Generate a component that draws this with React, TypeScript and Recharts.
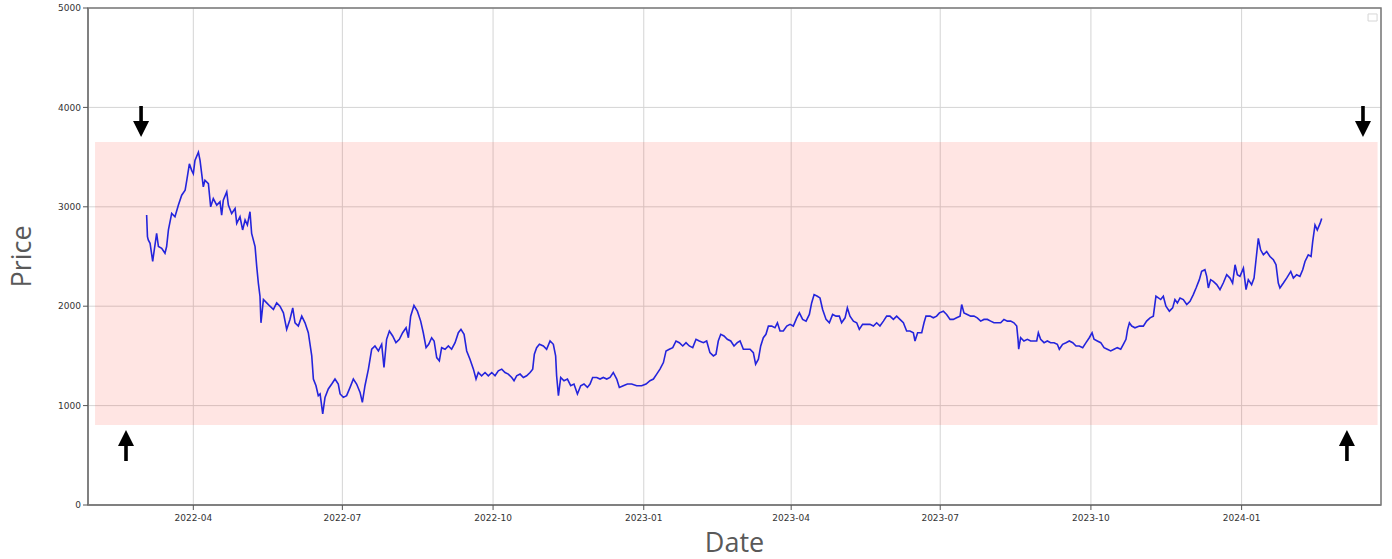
import { LineChart, Line, XAxis, YAxis, CartesianGrid, ReferenceArea, ReferenceDot } from "recharts";

// Mar 2022 - Jun 2022
const daysA = [61.5, 62.0, 62.5, 63.6, 65.2, 65.6, 67.6, 68.7, 70.7, 72.7, 73.7, 74.8, 76.8, 78.8, 80.9, 82.9, 85.0, 86.0, 87.6, 89.0, 90.0, 91.0, 93.1, 94.1, 95.1, 96.1, 97.1, 99.2, 100.6, 102.2, 104.3, 106.3, 107.3, 108.3, 110.4, 111.4, 113.4, 115.5, 116.5, 118.5, 120.1, 121.6, 123.0, 124.6, 125.6, 127.7, 128.7, 129.7, 130.7, 131.3, 132.8, 134.8, 136.8, 138.9, 140.9, 142.9, 145.0, 147.0, 149.0, 150.7, 152.1, 154.1, 156.2, 158.2, 160.2, 162.3, 163.3, 164.9, 166.3, 167.4, 169.0, 170.4, 172.4, 174.5, 176.5, 178.5];
const pricesA = [2917, 2700, 2667, 2633, 2450, 2500, 2733, 2600, 2583, 2533, 2600, 2767, 2933, 2900, 3017, 3117, 3167, 3267, 3433, 3367, 3333, 3467, 3550, 3467, 3333, 3200, 3267, 3233, 3000, 3083, 3017, 3050, 2917, 3067, 3150, 3017, 2933, 2983, 2833, 2900, 2767, 2867, 2817, 2950, 2733, 2600, 2400, 2233, 2100, 1833, 2067, 2033, 2000, 1967, 2033, 2000, 1933, 1767, 1867, 1983, 1833, 1800, 1900, 1833, 1733, 1500, 1267, 1200, 1100, 1117, 917, 1083, 1167, 1217, 1267, 1217];

// Jun 2022 - Oct 2022
const daysB = [179.6, 181.6, 183.6, 185.7, 187.7, 189.7, 191.8, 193.2, 194.8, 196.9, 198.9, 200.9, 203.0, 205.0, 206.4, 208.0, 209.7, 211.7, 213.7, 215.8, 217.8, 219.9, 221.3, 222.7, 224.7, 226.8, 228.8, 230.4, 232.1, 233.7, 235.5, 237.0, 238.6, 240.2, 241.6, 243.7, 245.7, 247.7, 249.8, 251.8, 253.4, 255.3, 256.9, 258.9, 261.0, 262.6, 264.0, 266.0, 268.1, 270.1, 272.2, 274.2, 276.2, 278.3, 280.3, 282.3, 284.4, 285.8, 287.4, 289.5, 291.5, 293.5, 295.6, 297.2, 298.2, 299.6, 301.3];
const pricesB = [1117, 1083, 1100, 1183, 1267, 1217, 1133, 1033, 1200, 1367, 1567, 1600, 1550, 1617, 1383, 1667, 1750, 1700, 1633, 1667, 1733, 1783, 1683, 1900, 2007, 1950, 1850, 1733, 1583, 1617, 1683, 1650, 1483, 1450, 1583, 1567, 1600, 1567, 1633, 1733, 1767, 1717, 1550, 1467, 1367, 1267, 1333, 1300, 1333, 1300, 1333, 1300, 1350, 1367, 1333, 1317, 1283, 1250, 1300, 1317, 1283, 1300, 1333, 1367, 1517, 1583, 1617];

// Oct 2022 - Feb 2023
const daysC = [303.7, 305.7, 307.8, 309.8, 311.2, 311.8, 312.9, 314.3, 316.3, 318.4, 320.4, 322.4, 324.5, 326.5, 328.5, 330.6, 332.2, 333.8, 336.3, 338.3, 340.3, 342.4, 344.4, 346.4, 348.5, 350.1, 352.5, 355.0, 357.6, 360.7, 363.7, 366.4, 368.8, 370.9, 372.9, 374.9, 377.0, 378.6, 380.6, 382.7, 384.7, 386.7, 388.8, 390.8, 392.8, 394.9, 396.9, 398.9, 401.4, 403.4, 405.4, 407.5, 409.1, 410.5, 412.0, 414.0, 416.0, 418.1, 420.1, 422.1];
const pricesC = [1600, 1567, 1650, 1617, 1500, 1300, 1100, 1283, 1250, 1267, 1200, 1217, 1117, 1200, 1217, 1183, 1217, 1283, 1283, 1267, 1283, 1267, 1283, 1333, 1267, 1183, 1200, 1217, 1217, 1200, 1200, 1217, 1250, 1267, 1317, 1367, 1433, 1550, 1567, 1583, 1650, 1633, 1600, 1633, 1600, 1583, 1667, 1650, 1633, 1650, 1533, 1500, 1517, 1650, 1717, 1700, 1667, 1650, 1600, 1633];

// Feb 2023 - Jun 2023
const daysD = [423.8, 425.8, 427.8, 429.9, 431.9, 433.3, 435.0, 436.4, 438.0, 439.6, 441.1, 443.1, 445.1, 446.6, 448.2, 450.2, 452.3, 454.3, 456.3, 458.4, 460.0, 462.0, 464.1, 466.1, 467.5, 469.0, 471.0, 472.6, 474.2, 476.3, 478.3, 480.3, 482.4, 484.4, 485.8, 487.9, 489.3, 490.9, 493.0, 495.0, 496.6, 498.6, 500.7, 503.1, 505.2, 507.2, 509.2, 511.3, 513.3, 515.3, 517.4, 519.4, 521.4, 523.5, 525.5, 527.5, 529.6, 530.6, 532.2, 534.7, 536.1, 537.3, 539.8, 541.8, 543.8, 545.5];
const pricesD = [1650, 1567, 1567, 1567, 1533, 1417, 1467, 1600, 1683, 1717, 1800, 1800, 1783, 1833, 1750, 1750, 1800, 1817, 1800, 1883, 1933, 1867, 1850, 1917, 2033, 2117, 2100, 2083, 1967, 1867, 1833, 1917, 1900, 1900, 1833, 1883, 1983, 1900, 1850, 1833, 1767, 1817, 1817, 1817, 1800, 1833, 1800, 1850, 1900, 1900, 1867, 1900, 1867, 1833, 1750, 1750, 1733, 1650, 1733, 1733, 1833, 1900, 1900, 1883, 1900, 1933];

// Jul 2023 - Oct 2023
const daysE = [547.9, 549.9, 552.0, 554.0, 556.0, 558.1, 559.1, 560.5, 562.5, 564.6, 566.6, 568.6, 570.7, 572.7, 574.8, 576.8, 578.8, 580.9, 582.9, 584.9, 587.0, 589.0, 591.0, 592.7, 593.5, 593.9, 595.1, 597.1, 599.2, 601.2, 603.2, 604.9, 605.9, 607.3, 609.4, 611.4, 613.4, 615.5, 617.5, 618.7, 620.7, 622.8, 624.8, 626.9, 628.9, 630.9, 633.0, 635.0, 637.0, 638.7, 639.9, 641.9, 644.0, 646.0, 648.0, 650.1, 652.1, 654.1, 656.2, 657.8, 659.4, 660.4, 661.5, 662.9, 664.9, 667.6];
const pricesE = [1950, 1917, 1867, 1867, 1883, 1900, 2017, 1933, 1917, 1900, 1900, 1883, 1850, 1867, 1867, 1850, 1833, 1833, 1833, 1867, 1850, 1850, 1833, 1800, 1667, 1567, 1683, 1650, 1667, 1650, 1650, 1650, 1733, 1667, 1633, 1650, 1633, 1633, 1617, 1567, 1617, 1633, 1650, 1633, 1600, 1600, 1583, 1633, 1683, 1733, 1667, 1650, 1633, 1583, 1567, 1550, 1567, 1583, 1567, 1617, 1667, 1767, 1833, 1800, 1783, 1800];

// Nov 2023 - Feb 2024
const daysF = [670.0, 672.0, 674.1, 676.1, 677.7, 679.2, 680.6, 682.2, 683.8, 685.9, 687.9, 689.3, 690.8, 692.4, 694.4, 696.5, 698.5, 700.5, 702.2, 704.2, 705.6, 707.6, 708.7, 709.7, 711.1, 712.7, 714.8, 716.8, 718.8, 720.9, 722.9, 724.5, 726.0, 727.4, 729.0, 731.1, 732.7, 734.1, 736.1, 737.6, 738.8, 740.2, 741.6, 743.3, 745.3, 747.3, 749.4, 751.0, 752.4, 753.4, 755.5, 757.5, 760.0, 761.6, 763.6, 765.6, 767.3, 768.7, 770.7, 772.4, 773.4, 774.8, 776.2, 777.9, 778.9];
const pricesF = [1800, 1850, 1883, 1900, 2100, 2083, 2067, 2100, 2000, 1950, 1983, 2067, 2033, 2083, 2067, 2017, 2050, 2117, 2183, 2267, 2350, 2367, 2300, 2183, 2267, 2250, 2217, 2167, 2233, 2317, 2283, 2233, 2417, 2317, 2300, 2383, 2167, 2267, 2217, 2283, 2467, 2683, 2567, 2517, 2550, 2500, 2467, 2417, 2233, 2183, 2233, 2283, 2350, 2283, 2317, 2300, 2367, 2450, 2517, 2500, 2650, 2817, 2767, 2833, 2883];

const tickDays = [90, 181, 273, 365, 455, 546, 638, 730];
const tickLabels = ["2022-04", "2022-07", "2022-10", "2023-01", "2023-04", "2023-07", "2023-10", "2024-01"];
const priceTicks = [0, 1000, 2000, 3000, 4000, 5000];
const dayDomain = [25.7, 815.1];

// shaded range
const bandDays = [30, 813];
const bandPrices = [805, 3652];

// arrow annotations (tip position)
const arrowDays = [58.1, 48.9, 804.1, 794.3];
const arrowPrices = [3702, 755, 3702, 755];
const arrowDirs = ["down", "up", "down", "up"];

const days = [...daysA, ...daysB, ...daysC, ...daysD, ...daysE, ...daysF];
const prices = [...pricesA, ...pricesB, ...pricesC, ...pricesD, ...pricesE, ...pricesF];
const data = days.map((d, i) => ({ day: d, price: prices[i] }));

const tickStyle = { fontSize: 9, fill: "#333", fontFamily: "DejaVu Sans" };
const titleStyle = { fontSize: 27, fill: "#595959", fontFamily: "Open Sans" };

function arrowShape(dir: string) {
    return (props: any) => {
        const { cx, cy } = props;
        const k = dir === "down" ? -1 : 1;
        const hb = cy + k * 16;
        const tail = cy + k * 31;
        const d = `M${cx},${cy} L${cx - 8},${hb} L${cx - 1.8},${hb} L${cx - 1.8},${tail} L${cx + 1.8},${tail} L${cx + 1.8},${hb} L${cx + 8},${hb} Z`;
        return <path d={d} fill="#000" />;
    };
}

const priceLabel = (props: any) => {
    const vb = props.viewBox;
    const x = vb.x + 20;
    const y = vb.y + vb.height / 2;
    return (
        <text x={x} y={y} transform={`rotate(-90, ${x}, ${y})`} textAnchor="middle" dominantBaseline="central" style={titleStyle}>
            Price
        </text>
    );
};

const dateLabel = (props: any) => {
    const vb = props.viewBox;
    return (
        <text x={vb.x + vb.width / 2} y={vb.y + 47} textAnchor="middle" style={titleStyle}>
            Date
        </text>
    );
};

export default function App() {
    return (
        <div style={{ position: "absolute", left: 0, top: 0, width: 1392, height: 559, background: "#fff" }}>
            <LineChart width={1392} height={559} data={data} margin={{ top: 8, right: 11, bottom: 0, left: 0 }}>
                <CartesianGrid stroke="#d4d4d4" strokeWidth={1} />
                <XAxis
                    dataKey="day"
                    type="number"
                    domain={dayDomain}
                    allowDataOverflow
                    ticks={tickDays}
                    tickFormatter={(v: number) => tickLabels[tickDays.indexOf(v)]}
                    tick={tickStyle}
                    tickSize={5}
                    tickMargin={5}
                    tickLine={{ stroke: "#555" }}
                    axisLine={{ stroke: "#7a7a7a", strokeWidth: 1.5 }}
                    height={54}
                    interval={0}
                    label={dateLabel}
                />
                <YAxis
                    type="number"
                    domain={[0, 5000]}
                    allowDataOverflow
                    ticks={priceTicks}
                    tick={tickStyle}
                    tickSize={5}
                    tickMargin={2}
                    tickLine={{ stroke: "#555" }}
                    axisLine={{ stroke: "#7a7a7a", strokeWidth: 1.5 }}
                    width={88}
                    interval={0}
                    label={priceLabel}
                />
                <ReferenceArea
                    x1={bandDays[0]}
                    x2={bandDays[1]}
                    y1={bandPrices[0]}
                    y2={bandPrices[1]}
                    fill="#ff2a1a"
                    fillOpacity={0.12}
                    stroke="none"
                />
                <ReferenceArea
                    x1={dayDomain[0]}
                    x2={dayDomain[1]}
                    y1={0}
                    y2={5000}
                    fill="none"
                    stroke="#7a7a7a"
                    strokeWidth={1.5}
                />
                <ReferenceArea x1={807.2} x2={812.7} y1={4869} y2={4940} fill="#fff" stroke="#d6d6d6" strokeWidth={1} />
                <Line
                    type="linear"
                    dataKey="price"
                    stroke="#2424dc"
                    strokeWidth={1.6}
                    dot={false}
                    isAnimationActive={false}
                />
                {arrowDays.map((d, i) => (
                    <ReferenceDot key={i} x={d} y={arrowPrices[i]} shape={arrowShape(arrowDirs[i])} />
                ))}
            </LineChart>
        </div>
    );
}
